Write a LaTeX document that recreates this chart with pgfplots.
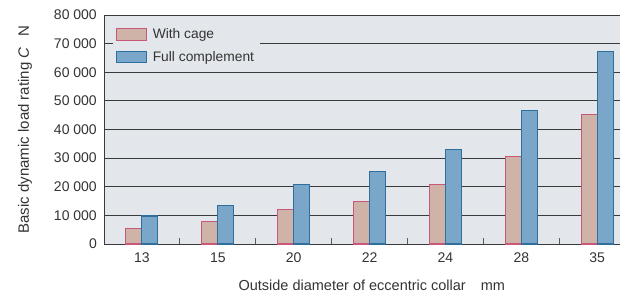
\documentclass[border=0pt]{standalone}
\usepackage{pgfplots}
\pgfplotsset{compat=1.18}
\usepackage{fontspec}
\setmainfont{Liberation Sans}
\definecolor{bgc}{HTML}{E3E7EB}
\definecolor{pinkf}{HTML}{CFB3A8}
\definecolor{pinkd}{HTML}{C8577A}
\definecolor{bluef}{HTML}{7AA6C9}
\definecolor{blued}{HTML}{2E6F9E}
\definecolor{gridc}{HTML}{3A3A3A}
\definecolor{txt}{HTML}{333333}
\newcommand\tf{\fontsize{14}{16}\selectfont}
\pgfplotsset{
  layers/mylayers/.define layer set={
    axis background,axis grid,axis ticks,pre main,main,axis lines,axis tick labels,axis descriptions,axis foreground
  }{},
}
\pgfplotstableread{
x cage full
0 5500 9800
1 7800 13500
2 12200 20700
3 15000 25300
4 20700 33100
5 30700 46700
6 45300 67300
}\datatable
\begin{document}
\begin{tikzpicture}
\begin{axis}[
  set layers=mylayers,
  at={(0,0)}, anchor=south west,
  scale only axis, width=516pt, height=229pt,
  ybar, bar width=16pt,
  xmin=-0.5, xmax=6.3,
  ymin=0, ymax=80000,
  xtick={0,...,6},
  xticklabels={\tf 13,\tf 15,\tf 20,\tf 22,\tf 24,\tf 28,\tf 35},
  minor xtick={0.5,1.5,...,5.5},
  ytick={0,10000,...,80000},
  yticklabel={\tf\pgfmathprintnumber[assume math mode=true,1000 sep={\ }]{\tick}},
  scaled y ticks=false,
  axis x line*=bottom, axis y line*=left,
  axis line style={draw=gridc, line width=1pt},
  axis background/.style={fill=bgc},
  ymajorgrids, grid style={draw=gridc, line width=0.8pt},
  major tick length=0pt, minor tick length=6pt, tick align=inside,
  every minor tick/.append style={draw=gray!70!black, line width=1pt},
  tick label style={text=txt},
  yticklabel style={inner sep=0pt, xshift=-7pt},
  xticklabel style={inner sep=0pt, yshift=-9pt},
  every axis y label/.style={at={(axis description cs:-0.1531,0.5)}, rotate=90, anchor=center, text=txt, font=\fontsize{15}{17}\selectfont},
  every axis x label/.style={at={(axis description cs:0.519,-0.179)}, anchor=center, text=txt, font=\fontsize{14.5}{17}\selectfont},
  ylabel={Basic dynamic load rating \textit{C}\hspace{11pt}N},
  xlabel={Outside diameter of eccentric collar\hspace{15pt}mm},
  legend style={at={(axis description cs:0.01744,0.9694)}, anchor=north west,
    fill=bgc, draw=none, inner xsep=3pt, inner ysep=4pt, row sep=6pt,
    font=\fontsize{13.8}{16}\selectfont,
    nodes={inner sep=2.5pt, text=txt}},
  legend cell align=left,
  mylegend/.style={legend image code/.code={\draw[##1, bar shift=0pt] (0pt,-5.8pt) rectangle (30pt,5.8pt);}},
]
\addplot[fill=pinkf, draw=pinkd, line width=1.1pt, bar shift=-8pt, mylegend] table[x=x,y=cage]{\datatable};
\addlegendentry{\hspace{3pt}With cage}
\addplot[fill=bluef, draw=blued, line width=1.1pt, bar shift=8pt, mylegend] table[x=x,y=full]{\datatable};
\addlegendentry{\hspace{3pt}Full complement}
\end{axis}
\pgfresetboundingbox
\useasboundingbox (-104pt,-51pt) rectangle (516pt,244pt);
\end{tikzpicture}
\end{document}
